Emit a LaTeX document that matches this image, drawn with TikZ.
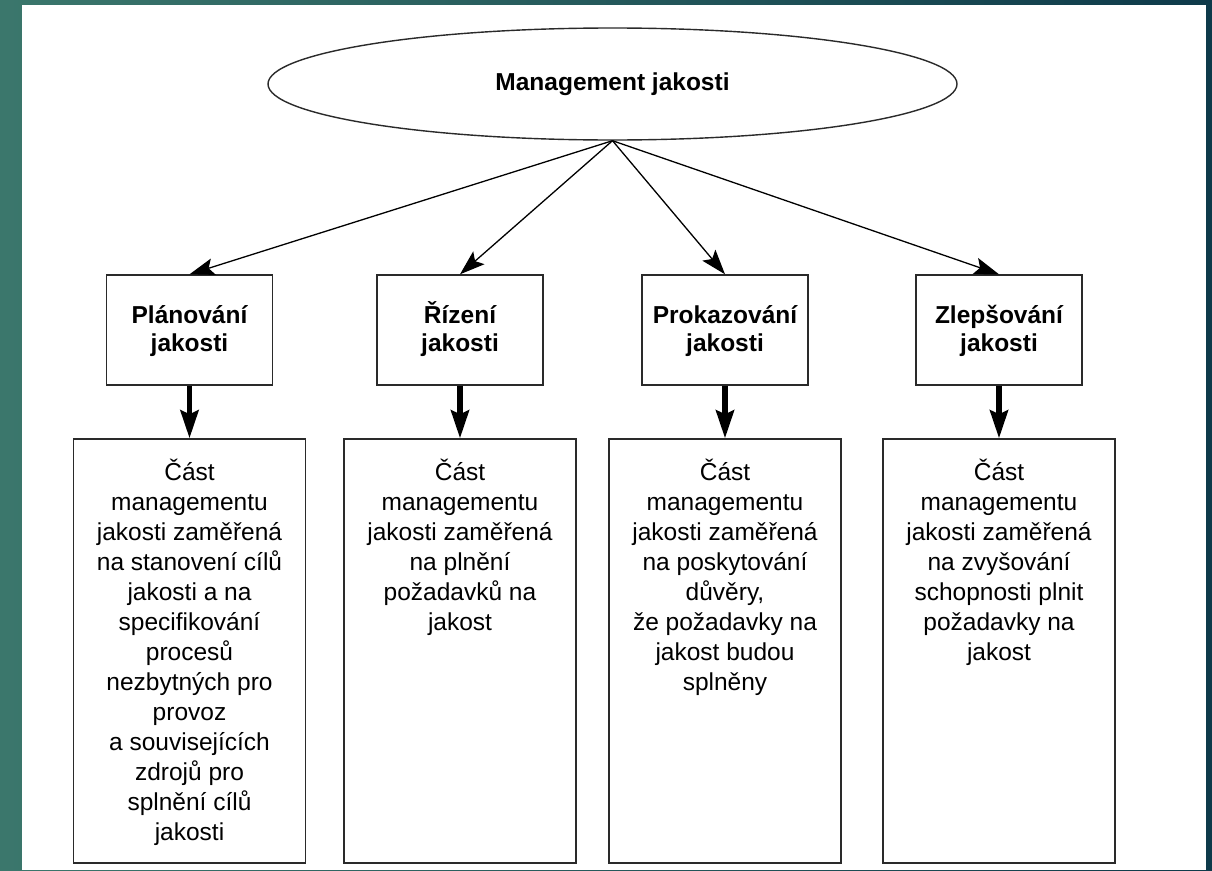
\documentclass[tikz,border=0pt]{standalone}
\usepackage{fontspec}
\setmainfont{Liberation Sans}
\usetikzlibrary{arrows.meta,shapes.geometric}
\definecolor{bgL}{HTML}{3B776C}
\definecolor{bgR}{HTML}{0E3A4A}
\definecolor{edge}{HTML}{2A2A2A}
\begin{document}
\begin{tikzpicture}[x=1pt,y=-1pt,
  topbox/.style={draw=edge,line width=1.4pt,fill=white,minimum width=166pt,minimum height=110pt,inner sep=0pt},
  lowbox/.style={draw=edge,line width=1.4pt,fill=white,minimum width=232pt,minimum height=424pt,inner sep=0pt},
  toptext/.style={anchor=base,inner sep=0pt,font=\fontsize{24.5}{28}\selectfont\bfseries},
  lowtext/.style={anchor=base,inner sep=0pt,font=\fontsize{24.5}{30}\selectfont},
  thinarrow/.style={draw=black,line width=1.3pt,-{Stealth[length=25pt,width=17pt,inset=5pt]}},
  thickarrow/.style={draw=black,line width=5.5pt,-{Stealth[length=28pt,width=18pt,inset=4pt]}}
]
\useasboundingbox (0,0) rectangle (1212,870);
\shade[left color=bgL,right color=bgR] (0,0) rectangle (1212,870);
\fill[white] (22,5) rectangle (1206,870);

\node[ellipse,draw=edge,line width=1.4pt,minimum width=689pt,minimum height=112pt,inner sep=0pt,
  font=\fontsize{24.5}{28}\selectfont\bfseries] (E) at (612.5,84) {Management jakosti};

\node[topbox] (P1) at (189.5,330) {};
\node[topbox] (P2) at (460,330) {};
\node[topbox] (P3) at (725,330) {};
\node[topbox] (P4) at (999,330) {};

\node[toptext] (P1t) at (189.5,323) {\begin{tabular}[t]{@{}c@{}}Plánování\\jakosti\end{tabular}};
\node[toptext] (P2t) at (460,323) {\begin{tabular}[t]{@{}c@{}}Řízení\\jakosti\end{tabular}};
\node[toptext] (P3t) at (725,323) {\begin{tabular}[t]{@{}c@{}}Prokazování\\jakosti\end{tabular}};
\node[toptext] (P4t) at (999,323) {\begin{tabular}[t]{@{}c@{}}Zlepšování\\jakosti\end{tabular}};

\node[lowbox] (L1) at (189.5,651) {};
\node[lowbox] (L2) at (460,651) {};
\node[lowbox] (L3) at (725,651) {};
\node[lowbox] (L4) at (999,651) {};

\node[lowtext] (L1t) at (189.5,480) {\begin{tabular}[t]{@{}c@{}}Část\\managementu\\jakosti zaměřená\\na stanovení cílů\\jakosti a na\\specifikování\\procesů\\nezbytných pro\\provoz\\a souvisejících\\zdrojů pro\\splnění cílů\\jakosti\end{tabular}};
\node[lowtext] (L2t) at (460,480) {\begin{tabular}[t]{@{}c@{}}Část\\managementu\\jakosti zaměřená\\na plnění\\požadavků na\\jakost\end{tabular}};
\node[lowtext] (L3t) at (725,480) {\begin{tabular}[t]{@{}c@{}}Část\\managementu\\jakosti zaměřená\\na poskytování\\důvěry,\\že požadavky na\\jakost budou\\splněny\end{tabular}};
\node[lowtext] (L4t) at (999,480) {\begin{tabular}[t]{@{}c@{}}Část\\managementu\\jakosti zaměřená\\na zvyšování\\schopnosti plnit\\požadavky na\\jakost\end{tabular}};

\draw[thinarrow] (E.south) -- (P1.north);
\draw[thinarrow] (E.south) -- (P2.north);
\draw[thinarrow] (E.south) -- (P3.north);
\draw[thinarrow] (E.south) -- (P4.north);

\draw[thickarrow] (P1.south) -- (L1.north);
\draw[thickarrow] (P2.south) -- (L2.north);
\draw[thickarrow] (P3.south) -- (L3.north);
\draw[thickarrow] (P4.south) -- (L4.north);
\end{tikzpicture}
\end{document}
